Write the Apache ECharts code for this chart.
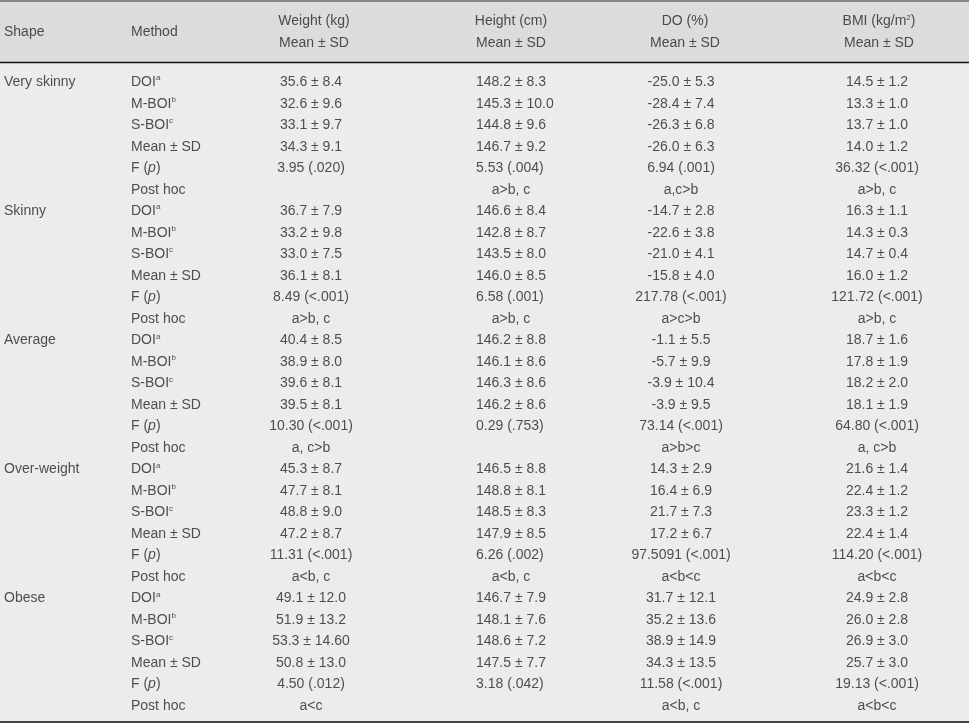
<!DOCTYPE html>
<html>
<head>
<meta charset="utf-8">
<script src="https://cdn.jsdelivr.net/npm/echarts@6/dist/echarts.min.js"></script>
<style>
  html, body { margin: 0; padding: 0; background: #ececec; }
  #chart { width: 969px; height: 723px; }
</style>
</head>
<body>
<div id="chart"></div>
<script>
// table content
const headers = ['Shape', 'Method', 'Weight (kg)', 'Height (cm)', 'DO (%)', 'BMI (kg/m{sup|2})'];
const shapes = ['Very skinny', 'Skinny', 'Average', 'Over-weight', 'Obese'];
const methods = ['DOI{sup|a}', 'M-BOI{sup|b}', 'S-BOI{sup|c}', 'Mean±SD', 'F ({it|p})', 'Post hoc'];

const weight = [
  '35.6±8.4', '32.6±9.6', '33.1±9.7', '34.3±9.1', '3.95 (.020)', '',
  '36.7±7.9', '33.2±9.8', '33.0±7.5', '36.1±8.1', '8.49 (<.001)', 'a>b, c',
  '40.4±8.5', '38.9±8.0', '39.6±8.1', '39.5±8.1', '10.30 (<.001)', 'a, c>b',
  '45.3±8.7', '47.7±8.1', '48.8±9.0', '47.2±8.7', '11.31 (<.001)', 'a<b, c',
  '49.1±12.0', '51.9±13.2', '53.3±14.60', '50.8±13.0', '4.50 (.012)', 'a<c'
];
const height = [
  '148.2±8.3', '145.3±10.0', '144.8±9.6', '146.7±9.2', '5.53 (.004)', 'a>b, c',
  '146.6±8.4', '142.8±8.7', '143.5±8.0', '146.0±8.5', '6.58 (.001)', 'a>b, c',
  '146.2±8.8', '146.1±8.6', '146.3±8.6', '146.2±8.6', '0.29 (.753)', '',
  '146.5±8.8', '148.8±8.1', '148.5±8.3', '147.9±8.5', '6.26 (.002)', 'a<b, c',
  '146.7±7.9', '148.1±7.6', '148.6±7.2', '147.5±7.7', '3.18 (.042)', ''
];
const dobi = [
  '-25.0±5.3', '-28.4±7.4', '-26.3±6.8', '-26.0±6.3', '6.94 (.001)', 'a,c>b',
  '-14.7±2.8', '-22.6±3.8', '-21.0±4.1', '-15.8±4.0', '217.78 (<.001)', 'a>c>b',
  '-1.1±5.5', '-5.7±9.9', '-3.9±10.4', '-3.9±9.5', '73.14 (<.001)', 'a>b>c',
  '14.3±2.9', '16.4±6.9', '21.7±7.3', '17.2±6.7', '97.5091 (<.001)', 'a<b<c',
  '31.7±12.1', '35.2±13.6', '38.9±14.9', '34.3±13.5', '11.58 (<.001)', 'a<b, c'
];
const bmi = [
  '14.5±1.2', '13.3±1.0', '13.7±1.0', '14.0±1.2', '36.32 (<.001)', 'a>b, c',
  '16.3±1.1', '14.3±0.3', '14.7±0.4', '16.0±1.2', '121.72 (<.001)', 'a>b, c',
  '18.7±1.6', '17.8±1.9', '18.2±2.0', '18.1±1.9', '64.80 (<.001)', 'a, c>b',
  '21.6±1.4', '22.4±1.2', '23.3±1.2', '22.4±1.4', '114.20 (<.001)', 'a<b<c',
  '24.9±2.8', '26.0±2.8', '26.9±3.0', '25.7±3.0', '19.13 (<.001)', 'a<b<c'
];

// layout: column anchors on a 0..969 x scale
const colX = { shape: 4, method: 131, weight: 311, height: 476, heightHoc: 511, dobi: 681, bmi: 877 };
const headX = [4, 131, 314, 511, 685, 879];
const headY = { line1: 0.9, line2: 1.86, mid: 1.36 };

const TXT = '#262626';
const FONT = '"Liberation Sans", Arial, sans-serif';
const rich = {
  sup: { fontSize: 8, lineHeight: 9, verticalAlign: 'top', color: TXT, fontFamily: FONT },
  it: { fontStyle: 'italic', fontSize: 14, lineHeight: 16, color: TXT, fontFamily: FONT }
};

const fmt = (s) => s.replace(/±/g, ' ± ');
const nRows = shapes.length * methods.length;

function cell(x, y, text, align) {
  return { value: [x, y, fmt(text)], label: { align: align } };
}

const headData = [];
headData.push(cell(headX[0], headY.mid, headers[0], 'left'));
headData.push(cell(headX[1], headY.mid, headers[1], 'left'));
for (let c = 2; c < headers.length; c++) {
  headData.push(cell(headX[c], headY.line1, headers[c], 'center'));
  headData.push(cell(headX[c], headY.line2, 'Mean±SD', 'center'));
}

const bodyData = [];
shapes.forEach((s, g) => bodyData.push(cell(colX.shape, g * methods.length, s, 'left')));
for (let r = 0; r < nRows; r++) {
  const m = r % methods.length;
  bodyData.push(cell(colX.method, r, methods[m], 'left'));
  if (weight[r]) bodyData.push(cell(colX.weight, r, weight[r], 'center'));
  if (height[r]) {
    if (m === 5) bodyData.push(cell(colX.heightHoc, r, height[r], 'center'));
    else bodyData.push(cell(colX.height, r, height[r], 'left'));
  }
  if (dobi[r]) bodyData.push(cell(colX.dobi, r, dobi[r], 'center'));
  if (bmi[r]) bodyData.push(cell(colX.bmi, r, bmi[r], 'center'));
}

const labelBase = {
  show: true,
  position: 'inside',
  verticalAlign: 'middle',
  formatter: (p) => p.value[2],
  color: TXT,
  fontSize: 14,
  lineHeight: 16,
  fontFamily: FONT,
  rich: rich
};

const hiddenX = (gridIndex, position, color, width) => ({
  type: 'value', gridIndex: gridIndex, position: position, min: 0, max: 969,
  axisLine: { show: true, onZero: false, lineStyle: { color: color, width: width } },
  axisTick: { show: false }, axisLabel: { show: false }, splitLine: { show: false }
});

const options = {
  backgroundColor: '#ececec',
  animation: false,
  grid: [
    { left: 0, right: 0, top: 1, height: 61.5, show: true, backgroundColor: '#dcdcdc', borderWidth: 0 },
    { left: 0, right: 0, top: 63, bottom: 1 }
  ],
  xAxis: [
    hiddenX(0, 'top', '#888888', 2),
    hiddenX(0, 'bottom', '#111111', 1.3),
    hiddenX(1, 'bottom', '#444444', 2)
  ],
  yAxis: [
    { type: 'value', gridIndex: 0, inverse: true, min: 0, max: 2.7, show: false },
    { type: 'value', gridIndex: 1, inverse: true, min: -0.893, max: 29.744, show: false }
  ],
  series: [
    {
      type: 'scatter', xAxisIndex: 1, yAxisIndex: 0, symbolSize: 0, silent: true,
      label: labelBase, data: headData
    },
    {
      type: 'scatter', xAxisIndex: 2, yAxisIndex: 1, symbolSize: 0, silent: true,
      label: labelBase, data: bodyData
    }
  ]
};

const myChart = echarts.init(document.getElementById('chart'));
myChart.setOption(options);
</script>
</body>
</html>
